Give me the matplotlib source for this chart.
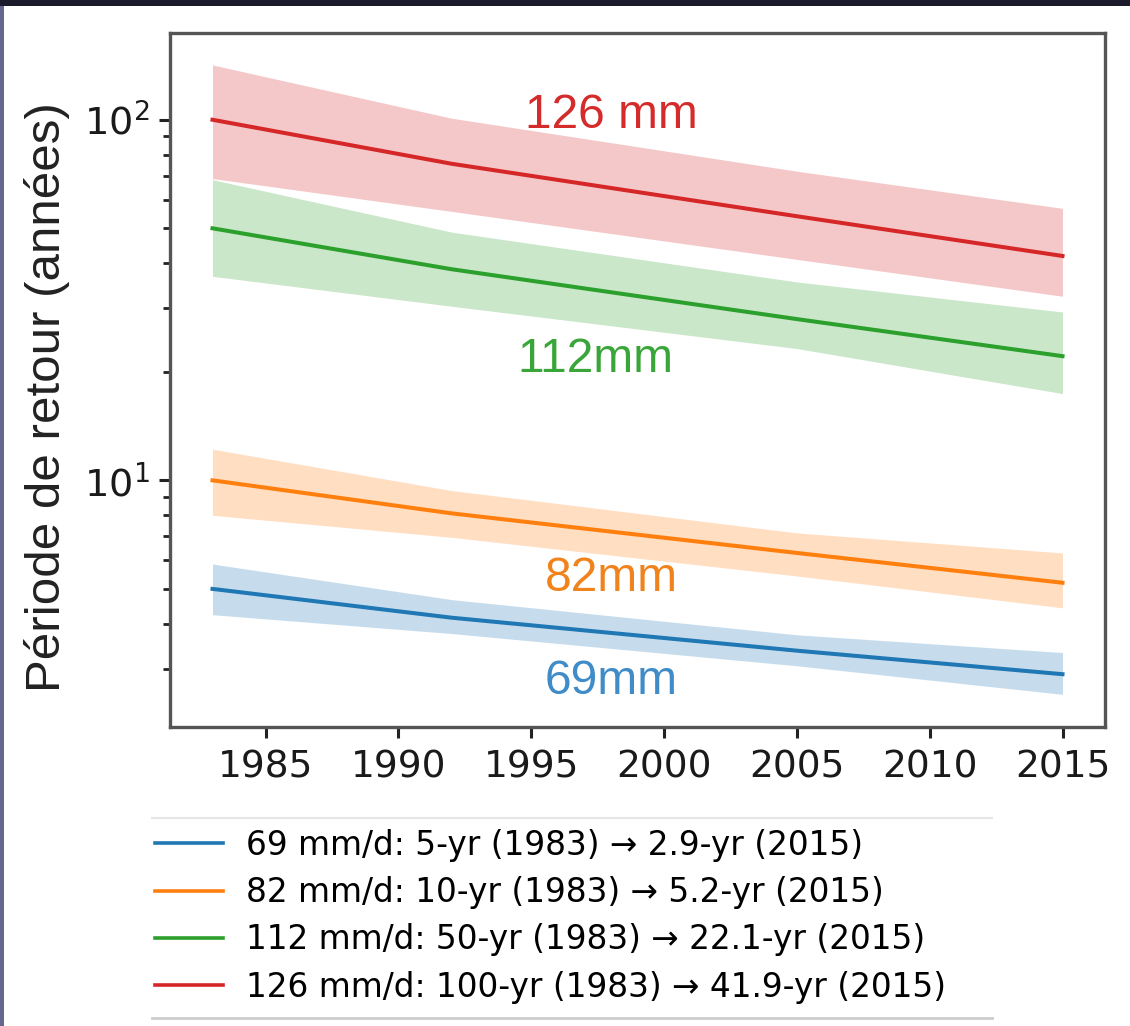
import matplotlib
matplotlib.use("Agg")
import matplotlib.pyplot as plt
from matplotlib.patches import Rectangle
from matplotlib.lines import Line2D

# Years at which the return periods are given
years = [1983, 1992, 2005, 2015]

# Return period (years) of 69 mm/d, 82 mm/d, 112 mm/d and 126 mm/d daily rainfall
rp_69 = [5.0, 4.16, 3.37, 2.9]
rp_69_lo = [4.24, 3.76, 3.06, 2.55]
rp_69_hi = [5.86, 4.67, 3.73, 3.33]

rp_82 = [10.0, 8.1, 6.29, 5.2]
rp_82_lo = [8.0, 6.95, 5.43, 4.43]
rp_82_hi = [12.2, 9.37, 7.15, 6.29]

rp_112 = [50.0, 38.5, 28.0, 22.1]
rp_112_lo = [36.8, 30.4, 23.2, 17.4]
rp_112_hi = [68.2, 48.8, 35.5, 29.3]

rp_126 = [100.0, 75.5, 54.0, 41.9]
rp_126_lo = [68.7, 55.7, 41.0, 32.4]
rp_126_hi = [141.9, 101.0, 72.0, 56.8]

legend_labels = [
    "69 mm/d: 5-yr (1983) \u2192 2.9-yr (2015)",
    "82 mm/d: 10-yr (1983) \u2192 5.2-yr (2015)",
    "112 mm/d: 50-yr (1983) \u2192 22.1-yr (2015)",
    "126 mm/d: 100-yr (1983) \u2192 41.9-yr (2015)",
]
tag_labels = ["69mm", "82mm", "112mm", "126 mm"]
tag_pos = [(1998.0, 2.77), (1998.0, 5.36), (1997.4, 21.7), (1998.0, 103.0)]

colors = ["#1f77b4", "#ff7f0e", "#2ca02c", "#d62728"]
tag_colors = ["#3f8cc8", "#f0831c", "#3aa63a", "#d42b2b"]

series = [
    (rp_69, rp_69_lo, rp_69_hi),
    (rp_82, rp_82_lo, rp_82_hi),
    (rp_112, rp_112_lo, rp_112_hi),
    (rp_126, rp_126_lo, rp_126_hi),
]

W, H = 1130, 1026
fig = plt.figure(figsize=(W / 100, H / 100), dpi=100)
fig.patch.set_facecolor("white")

# dark strips framing the figure
fig.patches.append(Rectangle((0, 1 - 6 / H), 1, 6 / H, transform=fig.transFigure,
                             facecolor="#1b1b2b", edgecolor="none", zorder=-1))
fig.patches.append(Rectangle((0, 0), 4 / W, 1 - 6 / H, transform=fig.transFigure,
                             facecolor="#66668f", edgecolor="none", zorder=-1))

ax = fig.add_axes([170 / W, 1 - 727 / H, 935 / W, 694 / H])

handles = []
for (mid, lo, hi), c in zip(series, colors):
    ax.fill_between(years, lo, hi, color=c, alpha=0.25, linewidth=0)
    h, = ax.plot(years, mid, color=c, linewidth=2.9)
    handles.append(h)

ax.set_yscale("log")
ax.set_ylim(2.07, 174)
ax.set_xlim(1981.4, 2016.6)
ax.set_xticks([1985, 1990, 1995, 2000, 2005, 2010, 2015])

for (tx, ty), t, c in zip(tag_pos, tag_labels, tag_colors):
    ax.text(tx, ty, t, color=c, fontsize=34.5, family="Liberation Sans",
            ha="center", va="center")

ax.set_ylabel("Période de retour (années)", fontsize=35.5, family="Liberation Sans",
              color="#222222", labelpad=10)
ax.yaxis.label.set_y(0.475)

for s in ax.spines.values():
    s.set_color("#555555")
    s.set_linewidth(2.4)

ax.tick_params(axis="x", which="major", labelsize=27, length=8, width=2.2, pad=8,
               color="#222222", labelcolor="#1a1a1a")
ax.tick_params(axis="y", which="major", labelsize=27.5, length=8, width=2.2, pad=7,
               color="#222222", labelcolor="#1a1a1a")
ax.tick_params(axis="y", which="minor", length=5, width=2.0, color="#222222")

leg = fig.legend(handles, legend_labels, loc="upper left",
                 bbox_to_anchor=(148 / W, 1 - 822 / H), borderaxespad=0,
                 fontsize=23.6, frameon=False,
                 handlelength=2.1, handletextpad=0.7, labelspacing=0.44,
                 borderpad=0.2)
for line in leg.get_lines():
    line.set_linewidth(2.6)

# thin rules above and below the legend
fig.lines.append(Line2D([152 / W, 992 / W], [1 - 818 / H] * 2, transform=fig.transFigure,
                        color="#e6e6e6", linewidth=1.5))
fig.lines.append(Line2D([152 / W, 992 / W], [1 - 1018 / H] * 2, transform=fig.transFigure,
                        color="#cccccc", linewidth=2.0))

fig.savefig("out.png", dpi=100)
